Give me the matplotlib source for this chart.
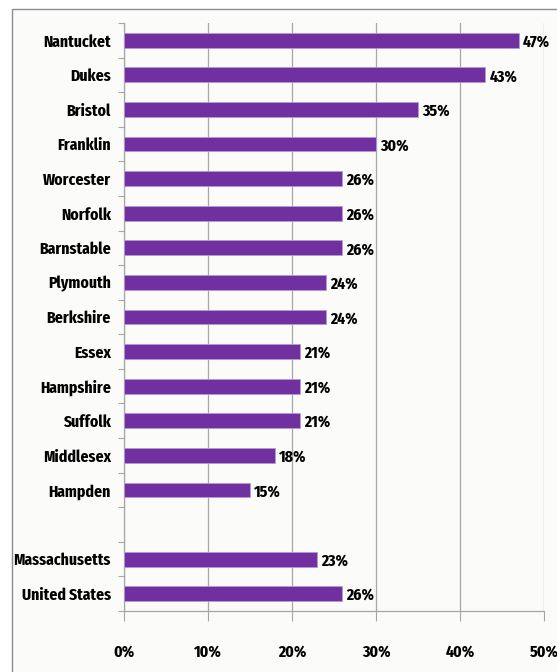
import numpy as np
import matplotlib.pyplot as plt
from matplotlib.patches import Rectangle
from matplotlib.ticker import FixedLocator, PercentFormatter

# Share of residents, by county (top block) plus state and national figures
counties = ['Nantucket', 'Dukes', 'Bristol', 'Franklin', 'Worcester', 'Norfolk',
            'Barnstable', 'Plymouth', 'Berkshire', 'Essex', 'Hampshire', 'Suffolk',
            'Middlesex', 'Hampden']
county_pct = [47, 43, 35, 30, 26, 26, 26, 24, 24, 21, 21, 21, 18, 15]
totals = ['Massachusetts', 'United States']
total_pct = [23, 26]
x_ticks = [0, 10, 20, 30, 40, 50]

plt.rcParams['font.family'] = ['Fira Sans Extra Condensed', 'DejaVu Sans']
plt.rcParams['font.weight'] = 'bold'
FS = 12.3

bar_color = '#7030A0'
grid_color = '#A6A6A6'

labels = counties + [''] + totals
values = county_pct + [np.nan] + total_pct
ypos = np.arange(len(labels))

fig = plt.figure(figsize=(5.57, 6.72), dpi=100)
fig.patch.set_facecolor('white')

# chart frame
fig.patches.append(Rectangle((12 / 557, -0.01), 1.0, 1 - 9 / 672 + 0.01,
                             transform=fig.transFigure, facecolor='#FBFCFA',
                             edgecolor='#8C8C8C', linewidth=1.0, zorder=-5))

ax = fig.add_axes([124 / 557, 61 / 672, 420 / 557, 588 / 672])
ax.patch.set_alpha(0)

mask = ~np.isnan(values)
ax.barh(ypos[mask], np.array(values)[mask], height=0.43,
        color=bar_color, edgecolor='#B79AD6', linewidth=0.6, zorder=3)

for y, v in zip(ypos[mask], np.array(values)[mask]):
    ax.text(v + 0.5, y + 0.05, f'{v:.0f}%', va='center', ha='left',
            fontsize=FS, fontweight='bold', color='black', zorder=4)

ax.set_ylim(len(labels) - 0.5, -0.5)
ax.set_xlim(0, 50)

ax.set_yticks(ypos)
ax.set_yticklabels(labels, fontsize=FS, fontweight='bold')
ax.yaxis.set_minor_locator(FixedLocator(np.arange(-0.5, len(labels), 1.0)))
ax.tick_params(axis='y', which='major', length=0, pad=9.5)
ax.tick_params(axis='y', which='minor', length=4, width=0.8, color=grid_color,
               direction='out')

ax.set_xticks(x_ticks)
ax.xaxis.set_major_formatter(PercentFormatter(decimals=0))
ax.tick_params(axis='x', length=7, width=0.8, color=grid_color, pad=17,
               labelsize=FS)
for lab in ax.get_xticklabels():
    lab.set_fontweight('bold')

ax.grid(axis='x', color=grid_color, linewidth=0.9, zorder=1)
ax.set_axisbelow(True)
for side in ['top', 'right']:
    ax.spines[side].set_visible(False)
for side in ['left', 'bottom']:
    ax.spines[side].set_color(grid_color)
    ax.spines[side].set_linewidth(0.9)

fig.savefig('out.png', dpi=100)
